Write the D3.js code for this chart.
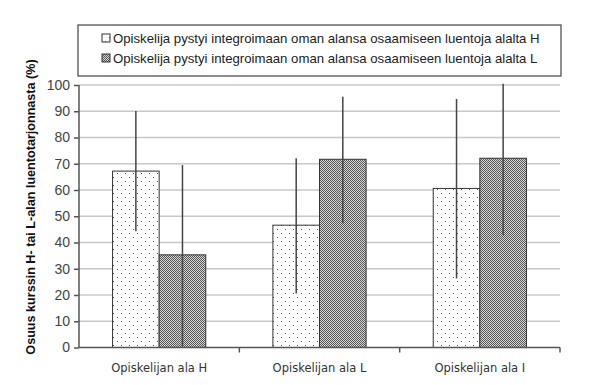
<!DOCTYPE html>
<html>
<head>
<meta charset="UTF-8">
<script src="https://cdn.jsdelivr.net/npm/d3@7"></script>
<style>
  body { margin: 0; background: #fff; }
  .grid line { stroke: #c8c8c8; stroke-width: 1.5px; }
  .axis path, .axis line { stroke: #555; stroke-width: 1.5px; }
  .ylab text { font: 14px "Liberation Sans", Arial, sans-serif; fill: #444; }
  .xlab { font: 11.5px "DejaVu Sans", Verdana, sans-serif; fill: #333; }
  .legend text { font: 13.2px "Liberation Sans", Arial, sans-serif; fill: #222; }
</style>
</head>
<body>
<svg width="600" height="385"></svg>
<script>
var categories = ["Opiskelijan ala H", "Opiskelijan ala L", "Opiskelijan ala I"];
var seriesNames = [
  "Opiskelija pystyi integroimaan oman alansa osaamiseen luentoja alalta H",
  "Opiskelija pystyi integroimaan oman alansa osaamiseen luentoja alalta L"
];
var valuesH = [67.2, 46.6, 60.6];
var valuesL = [35.3, 71.7, 72.1];
var errLowH = [44.3, 20.6, 26.3];
var errHighH = [90.1, 72.1, 94.7];
var errLowL = [0.5, 47.3, 42.8];
var errHighL = [69.5, 95.5, 100.5];
var yTicks = [0, 10, 20, 30, 40, 50, 60, 70, 80, 90, 100];
var yLabel = "Osuus kurssin H- tai L-alan luentotarjonnasta (%)";

var svg = d3.select("svg");
var mLeft = 79, mRight = 560, mTop = 85, mBottom = 347.5;

var x0 = d3.scaleBand().domain(categories).range([mLeft, mRight]).paddingInner(0).paddingOuter(0);
var x1 = d3.scaleBand().domain([0, 1]).range([0, x0.bandwidth()]).paddingOuter(0.72).paddingInner(0);
var y = d3.scaleLinear().domain([0, 100]).range([mBottom, mTop]);

// patterns
var defs = svg.append("defs");
var dots = defs.append("pattern").attr("id", "dots").attr("patternUnits", "userSpaceOnUse")
  .attr("width", 8).attr("height", 8);
dots.append("rect").attr("width", 8).attr("height", 8).attr("fill", "#fff");
dots.append("rect").attr("x", 1).attr("y", 1).attr("width", 1).attr("height", 1).attr("fill", "#555");
dots.append("rect").attr("x", 5).attr("y", 5).attr("width", 1).attr("height", 1).attr("fill", "#555");
var check = defs.append("pattern").attr("id", "check").attr("patternUnits", "userSpaceOnUse")
  .attr("width", 2).attr("height", 2);
check.append("rect").attr("width", 2).attr("height", 2).attr("fill", "#d2d2d2");
check.append("rect").attr("width", 1).attr("height", 1).attr("fill", "#5a5a5a");
check.append("rect").attr("x", 1).attr("y", 1).attr("width", 1).attr("height", 1).attr("fill", "#5a5a5a");

// grid
svg.append("g").attr("class", "grid")
  .selectAll("line").data(yTicks.slice(1)).join("line")
  .attr("x1", mLeft).attr("x2", mRight)
  .attr("y1", function (d) { return y(d); }).attr("y2", function (d) { return y(d); });

// bars
var fills = ["url(#dots)", "url(#check)"];
var series = [valuesH, valuesL];
var errs = [[errLowH, errHighH], [errLowL, errHighL]];
series.forEach(function (vals, s) {
  svg.append("g").selectAll("rect").data(vals).join("rect")
    .attr("x", function (d, i) { return x0(categories[i]) + x1(s); })
    .attr("width", x1.bandwidth())
    .attr("y", function (d) { return y(d); })
    .attr("height", function (d) { return y(0) - y(d); })
    .attr("fill", fills[s]).attr("stroke", "#333").attr("stroke-width", 1);
});
series.forEach(function (vals, s) {
  svg.append("g").selectAll("line").data(vals).join("line")
    .attr("x1", function (d, i) { return x0(categories[i]) + x1(s) + x1.bandwidth() / 2; })
    .attr("x2", function (d, i) { return x0(categories[i]) + x1(s) + x1.bandwidth() / 2; })
    .attr("y1", function (d, i) { return y(errs[s][0][i]); })
    .attr("y2", function (d, i) { return y(errs[s][1][i]); })
    .attr("stroke", "#444").attr("stroke-width", 1.5);
});

// y axis
var yAxis = svg.append("g").attr("class", "axis ylab")
  .attr("transform", "translate(" + mLeft + ",0)")
  .call(d3.axisLeft(y).tickValues(yTicks).tickSize(5).tickPadding(4));
yAxis.select(".domain").attr("d", "M0," + y(0) + "V" + y(100));

// x axis
var xAxis = svg.append("g").attr("class", "axis")
  .attr("transform", "translate(0," + mBottom + ")");
xAxis.append("line").attr("x1", mLeft).attr("x2", mRight).attr("y1", 0).attr("y2", 0);
xAxis.selectAll(".tk").data(categories).join("line").attr("class", "tk")
  .attr("x1", function (d) { return x0(d) + x0.bandwidth(); })
  .attr("x2", function (d) { return x0(d) + x0.bandwidth(); })
  .attr("y1", 0).attr("y2", 5);
svg.selectAll(".xlab").data(categories).join("text").attr("class", "xlab")
  .attr("x", function (d) { return x0(d) + x0.bandwidth() / 2; })
  .attr("y", 372).attr("text-anchor", "middle").text(function (d) { return d; });

// y label
svg.append("text")
  .attr("transform", "translate(35,207) rotate(-90)")
  .attr("text-anchor", "middle")
  .style("font", "bold 12.6px 'Liberation Sans', Arial, sans-serif").style("fill", "#111")
  .text(yLabel);

// legend
var lg = svg.append("g").attr("class", "legend");
lg.append("rect").attr("x", 78).attr("y", 25).attr("width", 483).attr("height", 51)
  .attr("fill", "#fff").attr("stroke", "#444").attr("stroke-width", 1.2);
seriesNames.forEach(function (name, s) {
  var yy = 38 + s * 20;
  lg.append("rect").attr("x", 102).attr("y", yy - 4).attr("width", 8).attr("height", 8)
    .attr("fill", fills[s]).attr("stroke", "#333");
  lg.append("text").attr("x", 113).attr("y", yy + 4.5).text(name);
});
</script>
</body>
</html>
